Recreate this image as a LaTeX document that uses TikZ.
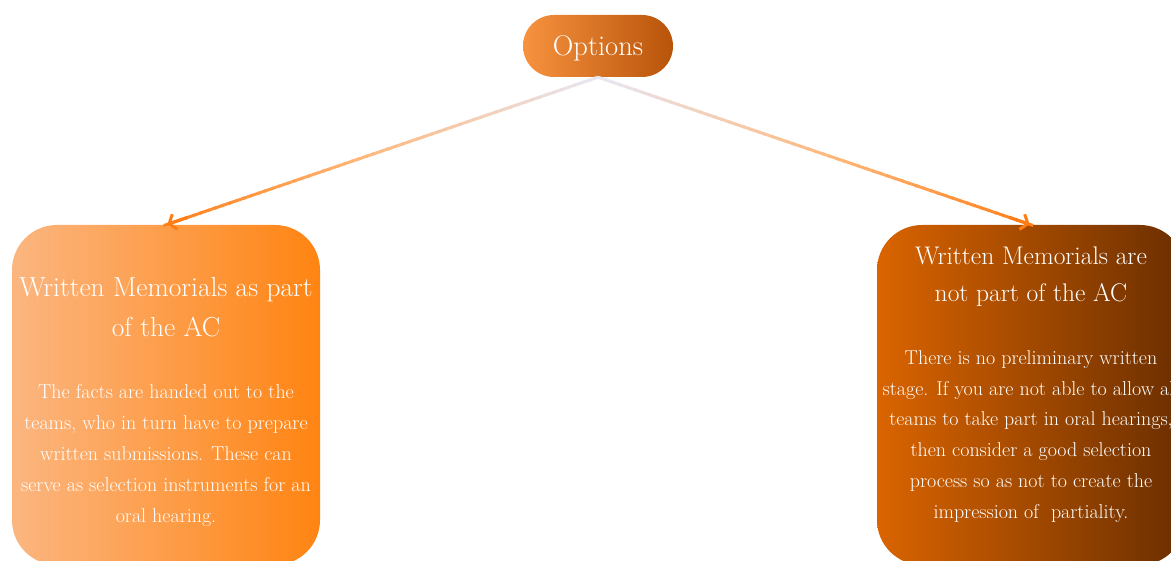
\documentclass[tikz,border=0pt]{standalone}
\usepackage{fontspec}
\usetikzlibrary{arrows.meta,calc}
\definecolor{optL}{HTML}{F7923F}
\definecolor{optR}{HTML}{B8540A}
\definecolor{lbL}{HTML}{FBB680}
\definecolor{lbR}{HTML}{FF8412}
\definecolor{rbL}{HTML}{DA6400}
\definecolor{rbR}{HTML}{6A2E00}
\definecolor{arA}{HTML}{E8E6F2}
\definecolor{arB}{HTML}{FFB677}
\definecolor{arC}{HTML}{FF7D17}
\tikzset{
  pill/.style={rounded corners=31pt, minimum width=150pt, minimum height=62pt, inner sep=0pt, left color=optL, right color=optR, draw=none},
  bigbox/.style={rounded corners=45pt, minimum width=308pt, minimum height=340pt, inner sep=0pt, draw=none},
  ttl/.style={text=white, align=center, inner sep=0pt},
  bdy/.style={text=white, align=center, inner sep=0pt},
  seg/.style={line width=3pt},
}
\begin{document}
\begin{tikzpicture}[x=1pt,y=-1pt]
\useasboundingbox (0,0) rectangle (1171,561);
\begin{scope}
\clip (0,0) rectangle (1171,561);
\node[pill] (O) at (598,46) {};
\node[text=white, font=\fontsize{28.5}{32}\selectfont, inner sep=0pt, anchor=base] (Ot) at (598,56) {Options};
\node[bigbox, left color=lbL, right color=lbR] (L) at (166,395) {};
\node[bigbox, left color=rbL, right color=rbR] (R) at (1031,395) {};
\node[ttl, font=\fontsize{27.5}{40}\selectfont, anchor=base] (Lt) at (166,337) {Written Memorials as part\\of the AC};
\node[bdy, font=\fontsize{20}{31}\selectfont, anchor=base] (Lb) at (166,522) {The facts are handed out to the\\teams, who in turn have to prepare\\written submissions. These can\\serve as selection instruments for an\\oral hearing.};
\node[ttl, font=\fontsize{25.5}{37}\selectfont, anchor=base] (Rt) at (1031,302) {Written Memorials are\\not part of the AC};
\node[bdy, font=\fontsize{20}{30.7}\selectfont, anchor=base] (Rb) at (1031,518) {There is no preliminary written\\stage. If you are not able to allow all\\teams to take part in oral hearings,\\then consider a good selection\\process so as not to create the\\impression of\ \ partiality.};
\foreach \tgt in {L,R} {
  \foreach \i in {0,...,59} {
    \pgfmathsetmacro\a{\i/60}
    \pgfmathsetmacro\b{(\i+1.3)/60}
    \pgfmathsetmacro\p{\i<33 ? 100*\i/33 : 100*(\i-33)/27}
    \ifnum\i<33
      \draw[seg, color=arB!\p!arA] ($(O.south)!\a!(\tgt.north)$) -- ($(O.south)!\b!(\tgt.north)$);
    \else
      \draw[seg, color=arC!\p!arB] ($(O.south)!\a!(\tgt.north)$) -- ($(O.south)!\b!(\tgt.north)$);
    \fi
  }
  \draw[seg, arC, -{Straight Barb[length=6pt,width=16pt,line width=3pt]}, shorten >=1.5pt] ($(O.south)!0.95!(\tgt.north)$) -- (\tgt.north);
}
\end{scope}
\end{tikzpicture}
\end{document}
